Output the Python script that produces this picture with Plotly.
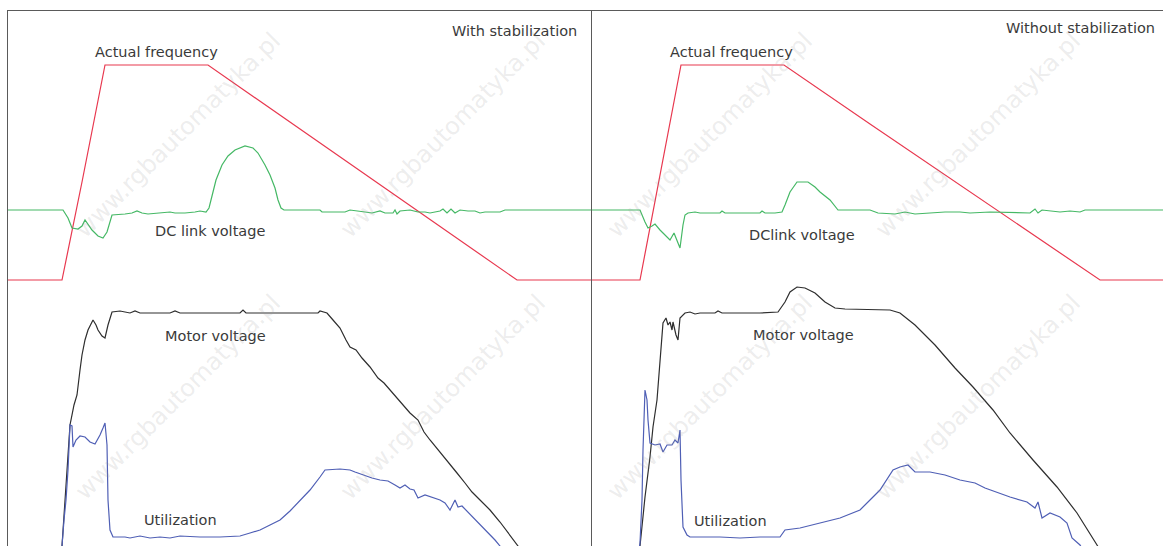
import plotly.graph_objects as go

# ---------------- data (time, level) ----------------
# Left panel: "With stabilization"
freq_L_t = [0, 54, 74, 97, 200, 292, 392, 509, 584]
freq_L_v = [266, 266, 364, 481, 481, 417, 348, 266, 266]

dc_L_t = [0, 55, 60, 64, 70, 74, 77, 80, 84, 90, 95, 99, 102, 104, 117, 124, 129, 134, 140, 152,
          162, 167, 177, 187, 192, 198, 201, 204, 208, 214, 220, 227, 237, 245, 250, 257, 262, 267,
          270, 273, 276, 292, 312, 314, 327, 337, 342, 352, 357, 364, 372, 377, 385, 387, 389, 392,
          402, 410, 417, 422, 432, 435, 439, 443, 447, 452, 460, 467, 472, 477, 492, 497, 584]
dc_L_v = [336, 336, 328, 318, 317, 320, 326, 322, 316, 310, 308, 314, 324, 331, 332, 333, 335, 333,
          332, 333, 334, 333, 333, 334, 335, 334, 338, 350, 366, 381, 390, 396, 400, 398, 393, 381,
          371, 358, 346, 338, 336, 336, 336, 334, 334, 334, 336, 335, 334, 333, 335, 333, 333, 336,
          332, 335, 336, 334, 334, 333, 335, 337, 333, 337, 333, 336, 335, 335, 333, 334, 334, 336, 336]

motor_L_t = [54, 58, 62, 66, 69, 72, 74, 77, 80, 85, 88, 90, 94, 97, 100, 104, 112, 122, 127, 132,
             162, 167, 172, 232, 235, 238, 310, 312, 319, 325, 332, 338, 342, 348, 354, 362, 370,
             376, 382, 392, 402, 410, 416, 422, 432, 439, 449, 457, 464, 472, 482, 492, 502, 510, 514]
motor_L_v = [0, 66, 121, 141, 151, 176, 191, 206, 216, 226, 221, 216, 210, 208, 221, 234, 235, 233,
             235, 233, 233, 235, 233, 233, 236, 233, 233, 235, 233, 226, 218, 206, 199, 196, 188,
             179, 168, 163, 156, 144, 133, 126, 114, 106, 94, 86, 73, 63, 54, 46, 36, 24, 11, 0, -6]

util_L_t = [52, 54, 56, 58, 60, 61, 62, 64, 65, 68, 72, 77, 82, 87, 92, 95, 97, 99, 100, 102, 105,
            117, 122, 132, 142, 152, 162, 172, 192, 212, 232, 242, 252, 262, 272, 282, 292, 302,
            312, 317, 332, 342, 347, 352, 357, 364, 372, 380, 387, 392, 397, 402, 406, 410, 417,
            424, 432, 437, 442, 447, 450, 454, 460, 464, 467, 472, 477, 482, 487, 492, 495]
util_L_v = [-6, 0, 26, 46, 76, 106, 121, 120, 99, 106, 110, 109, 104, 102, 111, 118, 123, 101, 46,
            16, 9, 9, 8, 10, 8, 9, 8, 10, 9, 9, 10, 13, 16, 21, 26, 35, 46, 56, 69, 76, 77, 76, 74,
            72, 70, 68, 66, 65, 61, 58, 61, 57, 56, 48, 51, 49, 46, 43, 36, 46, 39, 40, 34, 30, 26,
            21, 16, 11, 6, 0, -4]

# Right panel: "Without stabilization"
freq_R_t = [0, 48, 89, 192, 278, 408, 508, 571]
freq_R_v = [266, 266, 481, 481, 422, 334, 266, 266]

dc_R_t = [0, 48, 53, 56, 60, 63, 68, 73, 78, 82, 86, 88, 91, 93, 96, 103, 108, 128, 130, 133, 148,
          168, 170, 173, 183, 190, 193, 198, 205, 216, 223, 228, 238, 246, 278, 286, 303, 313, 323,
          338, 353, 368, 378, 398, 433, 438, 443, 446, 450, 458, 468, 478, 488, 493, 571]
dc_R_v = [336, 336, 324, 318, 320, 322, 316, 311, 306, 313, 304, 298, 321, 331, 333, 334, 333, 333,
          335, 333, 333, 333, 335, 333, 333, 334, 341, 354, 364, 364, 359, 354, 346, 336, 336, 333,
          332, 334, 332, 333, 334, 334, 333, 334, 333, 333, 337, 333, 336, 335, 334, 335, 334, 336, 336]

motor_R_t = [48, 53, 58, 61, 65, 68, 71, 74, 76, 78, 80, 81, 84, 86, 88, 93, 98, 103, 108, 123, 126,
             130, 148, 168, 186, 193, 198, 205, 213, 223, 233, 243, 253, 298, 308, 323, 343, 363,
             381, 401, 418, 441, 465, 485, 505, 508]
motor_R_v = [0, 49, 89, 119, 146, 183, 223, 228, 221, 224, 216, 224, 211, 206, 228, 233, 234, 232,
             233, 233, 235, 233, 233, 233, 234, 244, 254, 259, 258, 253, 244, 238, 237, 236, 233,
             221, 201, 178, 159, 136, 113, 86, 59, 33, 1, -4]

util_R_t = [47, 48, 50, 51, 53, 55, 56, 58, 63, 68, 71, 75, 80, 83, 86, 88, 89, 91, 95, 98, 128,
            148, 168, 188, 193, 208, 228, 248, 268, 278, 288, 301, 308, 316, 323, 338, 353, 368,
            383, 393, 406, 418, 435, 443, 446, 450, 458, 468, 475, 480, 488, 491]
util_R_v = [-4, 3, 46, 96, 156, 146, 126, 103, 101, 102, 94, 101, 101, 106, 103, 116, 66, 19, 11, 9,
            9, 8, 9, 9, 16, 18, 23, 28, 36, 46, 56, 76, 79, 81, 74, 74, 71, 66, 63, 58, 53, 49, 44,
            38, 44, 28, 33, 29, 23, 8, 1, -4]

labels_L = ["Actual frequency", "DC link voltage", "Motor voltage", "Utilization"]
labels_R = ["Actual frequency", "DClink voltage", "Motor voltage", "Utilization"]
titles = ["With stabilization", "Without stabilization"]
watermark = "www.rgbautomatyka.pl"

# ---------------- styling ----------------
RED = "#e8384f"
GREEN = "#45b865"
BLACK = "#2e2e2e"
BLUE = "#4f5fb5"
FRAME = "#5a5a5a"
TEXT = "#3a3a3a"
W, H = 1163, 546
ML, MT = 8, 11
split = 584 / (W - ML)

fig = go.Figure()
LW = 1.2
for xa, ya, series in [
    ("x", "y", [(freq_L_t, freq_L_v, RED), (dc_L_t, dc_L_v, GREEN),
                (motor_L_t, motor_L_v, BLACK), (util_L_t, util_L_v, BLUE)]),
    ("x2", "y2", [(freq_R_t, freq_R_v, RED), (dc_R_t, dc_R_v, GREEN),
                  (motor_R_t, motor_R_v, BLACK), (util_R_t, util_R_v, BLUE)]),
]:
    for t, v, c in series:
        fig.add_trace(go.Scatter(x=t, y=v, mode="lines", xaxis=xa, yaxis=ya,
                                 line=dict(color=c, width=LW), hoverinfo="skip",
                                 showlegend=False))

ax_common = dict(showgrid=False, zeroline=False, showticklabels=False, ticks="",
                 fixedrange=True, automargin=False)
fig.update_layout(
    width=W, height=H,
    margin=dict(l=ML, r=0, t=MT, b=0, pad=0, autoexpand=False),
    paper_bgcolor="white", plot_bgcolor="white",
    showlegend=False,
    xaxis=dict(domain=[0, split], range=[0, 584], side="top", showline=True,
               linecolor=FRAME, linewidth=1, anchor="y", **ax_common),
    xaxis2=dict(domain=[split, 1], range=[0, 571], side="top", showline=True,
                linecolor=FRAME, linewidth=1, anchor="y2", **ax_common),
    yaxis=dict(range=[0, 535], showline=True, linecolor=FRAME, linewidth=1,
               anchor="x", **ax_common),
    yaxis2=dict(range=[0, 535], showline=True, linecolor=FRAME, linewidth=1,
                anchor="x2", **ax_common),
)

font = dict(family="DejaVu Sans", size=14.5, color=TEXT)
pos_L = [(148.5, 494), (202, 315), (207, 210), (172.5, 26)]
pos_R = [(139.5, 494), (209.5, 311), (211.5, 211), (138.5, 25)]
for xr, yr, labs, pos in [("x", "y", labels_L, pos_L), ("x2", "y2", labels_R, pos_R)]:
    for lab, (px, py) in zip(labs, pos):
        fig.add_annotation(text=lab, x=px, y=py, xref=xr, yref=yr, showarrow=False,
                           xanchor="center", yanchor="middle", font=font)
fig.add_annotation(text=titles[0], x=571, y=515, xref="x", yref="y", showarrow=False,
                   xanchor="right", yanchor="middle", font=font)
fig.add_annotation(text=titles[1], x=565, y=518, xref="x2", yref="y2", showarrow=False,
                   xanchor="right", yanchor="middle", font=font)

# faint diagonal watermark tiles (only those fully inside the picture)
wm_cols = [178, 443, 710, 978]
wm_rows = [135, 397]
for cy in wm_rows:
    for cx in wm_cols:
        fig.add_annotation(text=watermark, x=(cx - ML) / (W - ML), y=(H - cy) / (H - MT),
                           xref="paper", yref="paper", showarrow=False, textangle=-45,
                           xanchor="center", yanchor="middle",
                           font=dict(family="DejaVu Sans", size=24,
                                     color="rgba(150,150,150,0.18)"))

fig.write_html("out.html", config={"displayModeBar": False},
               post_script="document.body.style.margin='0';document.body.style.overflow='hidden';")
